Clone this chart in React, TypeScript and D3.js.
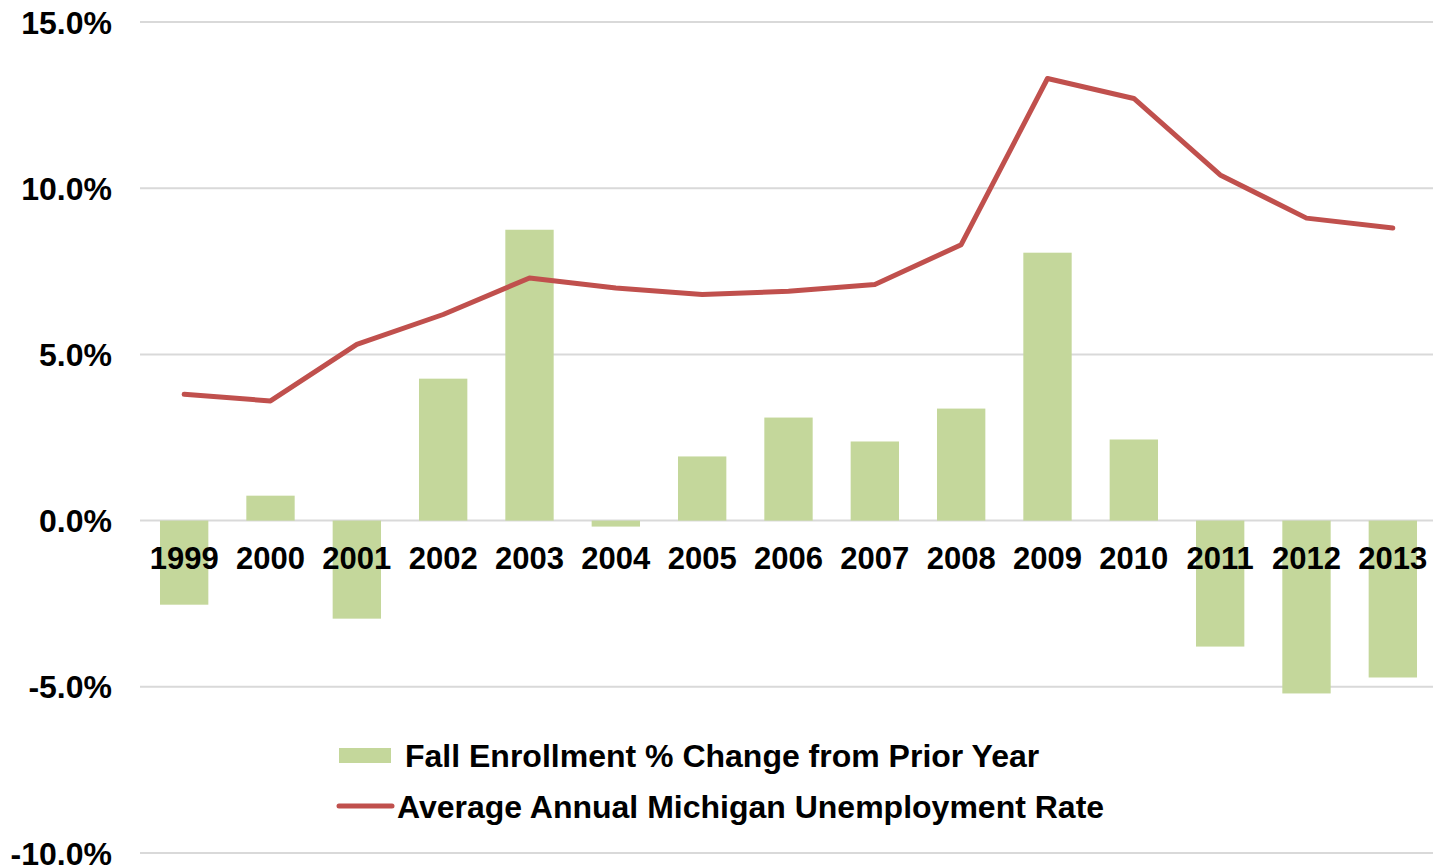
import React, { useEffect, useRef } from 'react';
import * as d3 from 'd3';

const years = ['1999', '2000', '2001', '2002', '2003', '2004', '2005', '2006', '2007', '2008', '2009', '2010', '2011', '2012', '2013'];
const enrollmentChange = [-2.53, 0.75, -2.95, 4.27, 8.75, -0.18, 1.93, 3.1, 2.38, 3.37, 8.06, 2.44, -3.79, -5.2, -4.72];
const unemployment = [3.8, 3.6, 5.3, 6.2, 7.3, 7.0, 6.8, 6.9, 7.1, 8.3, 13.3, 12.7, 10.4, 9.1, 8.8];
const yTicks = [-10, -5, 0, 5, 10, 15];
const seriesNames = ['Fall Enrollment % Change from Prior Year', 'Average Annual Michigan Unemployment Rate'];

const App = () => {
  const chartRef = useRef(null);

  useEffect(() => {
    const width = 1433;
    const height = 865;
    const svg = d3.select(chartRef.current)
      .attr('width', width)
      .attr('height', height);
    svg.selectAll('*').remove();

    const font = 'Arial, "Liberation Sans", sans-serif';

    const xScale = d3.scaleBand()
      .domain(years)
      .range([141, 1436])
      .paddingInner(0.44)
      .paddingOuter(0.22);

    const yScale = d3.scaleLinear()
      .domain([-10, 15])
      .range([853, 22]);

    // gridlines
    svg.append('g')
      .selectAll('line')
      .data(yTicks)
      .enter().append('line')
      .attr('x1', 140)
      .attr('x2', 1433)
      .attr('y1', d => yScale(d))
      .attr('y2', d => yScale(d))
      .attr('stroke', '#d9d9d9')
      .attr('stroke-width', 2);

    // y labels
    svg.append('g')
      .selectAll('text')
      .data(yTicks)
      .enter().append('text')
      .attr('x', 112)
      .attr('y', d => yScale(d))
      .attr('dy', '0.36em')
      .attr('text-anchor', 'end')
      .attr('font-family', font)
      .attr('font-weight', 'bold')
      .attr('font-size', 32)
      .text(d => d.toFixed(1) + '%');

    // bars
    svg.append('g')
      .selectAll('rect')
      .data(years)
      .enter().append('rect')
      .attr('x', d => xScale(d))
      .attr('width', xScale.bandwidth())
      .attr('y', (d, i) => yScale(Math.max(0, enrollmentChange[i])))
      .attr('height', (d, i) => Math.abs(yScale(enrollmentChange[i]) - yScale(0)))
      .attr('fill', '#c4d79b');

    // line
    const line = d3.line<number>()
      .x((d, i) => xScale(years[i]) + xScale.bandwidth() / 2)
      .y(d => yScale(d));

    svg.append('path')
      .datum(unemployment)
      .attr('d', line)
      .attr('fill', 'none')
      .attr('stroke', '#c0504d')
      .attr('stroke-width', 5)
      .attr('stroke-linejoin', 'round')
      .attr('stroke-linecap', 'round');

    // year labels
    svg.append('g')
      .selectAll('text')
      .data(years)
      .enter().append('text')
      .attr('x', d => xScale(d) + xScale.bandwidth() / 2)
      .attr('y', 558)
      .attr('dy', '0.36em')
      .attr('text-anchor', 'middle')
      .attr('font-family', font)
      .attr('font-weight', 'bold')
      .attr('font-size', 31)
      .text(d => d);

    // legend
    const legend = svg.append('g');
    legend.append('rect')
      .attr('x', 339)
      .attr('y', 748)
      .attr('width', 52)
      .attr('height', 15)
      .attr('fill', '#c4d79b');
    legend.append('line')
      .attr('x1', 339)
      .attr('x2', 392)
      .attr('y1', 806)
      .attr('y2', 806)
      .attr('stroke', '#c0504d')
      .attr('stroke-width', 5)
      .attr('stroke-linecap', 'round');
    legend.append('text')
      .attr('x', 405)
      .attr('y', 755)
      .attr('dy', '0.36em')
      .attr('font-family', font)
      .attr('font-weight', 'bold')
      .attr('font-size', 32)
      .text(seriesNames[0]);
    legend.append('text')
      .attr('x', 397)
      .attr('y', 806)
      .attr('dy', '0.36em')
      .attr('font-family', font)
      .attr('font-weight', 'bold')
      .attr('font-size', 32)
      .text(seriesNames[1]);
  }, []);

  return (
    <div style={{ position: 'absolute', left: 0, top: 0, width: 1433, height: 865, background: '#fff' }}>
      <svg ref={chartRef} style={{ display: 'block' }}></svg>
    </div>
  );
};

export default App;
